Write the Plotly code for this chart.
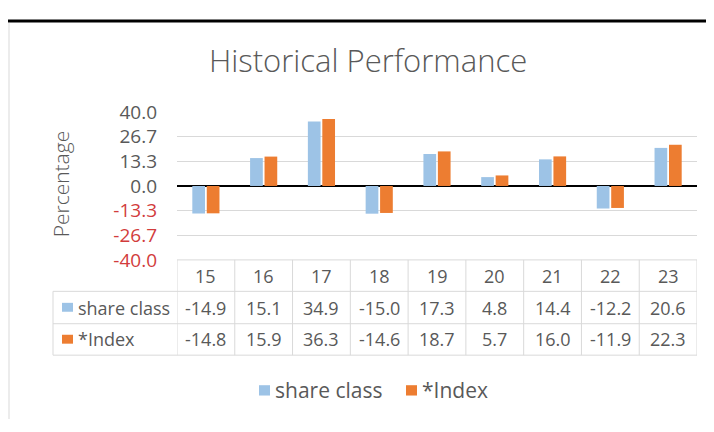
import plotly.graph_objects as go

# The page body has an 8px margin, so the figure is sized to fill the rest of the window
OFF = 8
W, H = 714 - OFF, 432 - OFF

years = ["15", "16", "17", "18", "19", "20", "21", "22", "23"]
series_names = ["share class", "*Index"]
share_class = [-14.9, 15.1, 34.9, -15.0, 17.3, 4.8, 14.4, -12.2, 20.6]
index_vals = [-14.8, 15.9, 36.3, -14.6, 18.7, 5.7, 16.0, -11.9, 22.3]
colors = ["#9DC3E6", "#ED7D31"]
y_tick_labels = ["-40.0", "-26.7", "-13.3", "0.0", "13.3", "26.7", "40.0"]
y_min, y_max = -40.0, 40.0

TEXT = "#595959"
RED = "#d23c3c"
GRID = "#d9d9d9"
FONT = "Open Sans"


def px(x):
    """screen x pixel -> paper"""
    return (x - OFF) / W


def py(y):
    """screen y pixel -> paper"""
    return 1 - (y - OFF) / H


# layout geometry (screen pixels)
plot_left, plot_right = 177, 697
plot_top, plot_bottom = 105, 262.5
row_edges = [262.5, 296, 330.5, 364]
rowhdr_left = 53

fig = go.Figure()
series = [share_class, index_vals]
for name, vals, col in zip(series_names, series, colors):
    fig.add_trace(go.Bar(x=years, y=vals, name=name, marker=dict(color=col, line=dict(width=0)),
                         showlegend=False, hoverinfo="skip"))

n = len(years)
step = (y_max - y_min) / (len(y_tick_labels) - 1)
tickvals = [y_min + i * step for i in range(len(y_tick_labels))]
ticktext = [f"<span style='color:{RED}'>{t}</span>" if t.startswith("-") else t for t in y_tick_labels]

fig.update_layout(
    width=W, height=H,
    margin=dict(l=0, r=0, t=0, b=0),
    paper_bgcolor="white", plot_bgcolor="white",
    barmode="group", bargap=0.5, bargroupgap=0.12,
    font=dict(family=FONT, color=TEXT),
    xaxis=dict(domain=[px(plot_left), px(plot_right)], range=[-0.5, n - 0.5],
               showticklabels=False, showgrid=False, zeroline=False, showline=False,
               ticks="", fixedrange=True),
    yaxis=dict(domain=[py(plot_bottom), py(plot_top)], range=[y_min, y_max],
               tickvals=tickvals, ticktext=ticktext, tickfont=dict(size=19, color=TEXT, family=FONT),
               showgrid=True, gridcolor=GRID, gridwidth=1,
               zeroline=True, zerolinecolor="black", zerolinewidth=1.5,
               showline=False, ticks="", ticklabelstandoff=19),
)

shapes = []
annotations = []

# window chrome: black line along the top, left border
shapes.append(dict(type="line", xref="paper", yref="paper", x0=0, x1=1, y0=1, y1=1,
                   line=dict(color="black", width=3)))
shapes.append(dict(type="line", xref="paper", yref="paper", x0=px(9), x1=px(9), y0=py(10), y1=0,
                   line=dict(color="#d9d9d9", width=1)))

# title
annotations.append(dict(text="Historical Performance", xref="paper", yref="paper",
                        x=px(368), y=py(50), xanchor="center", yanchor="middle", showarrow=False,
                        font=dict(size=31, color=TEXT, family=FONT, weight=300)))
# y axis title
annotations.append(dict(text="Percentage", xref="paper", yref="paper", textangle=-90,
                        x=px(61), y=py(182), xanchor="center", yanchor="middle", showarrow=False,
                        font=dict(size=21, color=TEXT, family=FONT, weight=300)))

# data table borders
tl = dict(color=GRID, width=1)
shapes.append(dict(type="line", xref="paper", yref="paper", x0=px(plot_left), x1=px(plot_right),
                   y0=py(row_edges[0]), y1=py(row_edges[0]), line=tl))
for r in row_edges[1:]:
    shapes.append(dict(type="line", xref="paper", yref="paper", x0=px(rowhdr_left), x1=px(plot_right),
                       y0=py(r), y1=py(r), line=tl))
for i in range(n + 1):
    shapes.append(dict(type="line", xref="x", yref="paper", x0=i - 0.5, x1=i - 0.5,
                       y0=py(row_edges[0]), y1=py(row_edges[-1]), line=tl))
shapes.append(dict(type="line", xref="paper", yref="paper", x0=px(rowhdr_left), x1=px(rowhdr_left),
                   y0=py(row_edges[1]), y1=py(row_edges[-1]), line=tl))

# header row + value rows
cell_font = dict(size=18, color=TEXT, family=FONT)
for i, yr in enumerate(years):
    annotations.append(dict(text=yr, xref="x", yref="paper", x=i,
                            y=py((row_edges[0] + row_edges[1]) / 2), xanchor="center", yanchor="middle",
                            showarrow=False, font=cell_font))
for r, vals in enumerate(series):
    yc = (row_edges[r + 1] + row_edges[r + 2]) / 2
    for i, v in enumerate(vals):
        annotations.append(dict(text=f"{v:.1f}", xref="x", yref="paper", x=i, y=py(yc),
                                xanchor="center", yanchor="middle", showarrow=False, font=cell_font))
    # row header with key
    shapes.append(dict(type="rect", xref="paper", yref="paper", x0=px(62), x1=px(73),
                       y0=py(yc + 4.5), y1=py(yc - 5), fillcolor=colors[r], line=dict(width=0)))
    annotations.append(dict(text=series_names[r], xref="paper", yref="paper", x=px(76), y=py(yc),
                            xanchor="left", yanchor="middle", showarrow=False, font=cell_font))

# legend (custom, below table)
leg_y = 401
leg_font = dict(size=21, color=TEXT, family=FONT)
leg_x = [259, 406]
for name, col, lx in zip(series_names, colors, leg_x):
    shapes.append(dict(type="rect", xref="paper", yref="paper", x0=px(lx), x1=px(lx + 11),
                       y0=py(leg_y + 6), y1=py(leg_y - 5), fillcolor=col, line=dict(width=0)))
    annotations.append(dict(text=name, xref="paper", yref="paper", x=px(lx + 14), y=py(leg_y),
                            xanchor="left", yanchor="middle", showarrow=False, font=leg_font))

fig.update_layout(shapes=shapes, annotations=annotations)
fig.write_html("out.html")
